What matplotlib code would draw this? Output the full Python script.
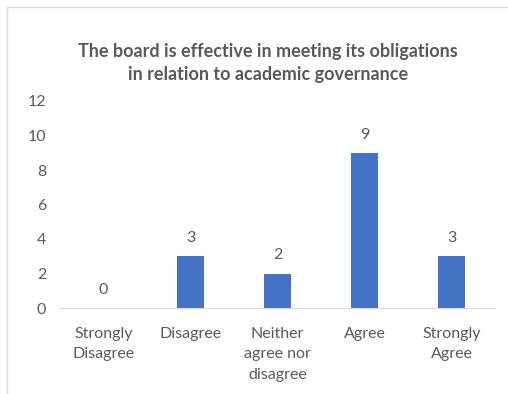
import matplotlib.pyplot as plt
from matplotlib.patches import Rectangle

categories = ["Strongly\nDisagree", "Disagree", "Neither\nagree nor\ndisagree", "Agree", "Strongly\nAgree"]
counts = [0, 3, 2, 9, 3]
yticks = [0, 2, 4, 6, 8, 10, 12]
title = "The board is effective in meeting its obligations\nin relation to academic governance"

plt.rcParams['font.family'] = ['Lato', 'DejaVu Sans']
text_color = "#595959"
bar_color = "#4472C4"

fig = plt.figure(figsize=(5.08, 3.94), dpi=100)
fig.patch.set_facecolor("white")

# chart frame (left and top edges)
fig.add_artist(Rectangle((7/508, -0.1), 1.2, (394-7)/394 + 0.1, transform=fig.transFigure,
                         fill=False, edgecolor="#D9D9D9", linewidth=1.0))

ax = fig.add_axes([60/508, (394-308)/394, 435/508, 207/394])
x = range(len(categories))
bars = ax.bar(x, counts, width=0.32, color=bar_color, zorder=2)
ax.set_xlim(-0.5, len(categories) - 0.5)
ax.set_ylim(0, 12)
ax.set_yticks(yticks)
ax.set_xticks(list(x))
ax.set_xticklabels(categories, fontsize=11.5, color=text_color, linespacing=1.55)
ax.tick_params(axis='y', labelsize=11.5, colors=text_color, length=0, pad=10)
ax.tick_params(axis='x', length=0, pad=14)
for s in ["top", "right", "left"]:
    ax.spines[s].set_visible(False)
ax.spines["bottom"].set_color("#D9D9D9")

for xi, v in zip(x, counts):
    ax.annotate(str(v), (xi, v), xytext=(0, 8), textcoords="offset points",
                ha="center", va="bottom", fontsize=11.5, color=text_color)

fig.text(268/508, 1 - 63/394, title, ha="center", va="center", fontsize=13,
         fontweight="bold", color=text_color, linespacing=1.4)

fig.savefig("out.png", dpi=100)
